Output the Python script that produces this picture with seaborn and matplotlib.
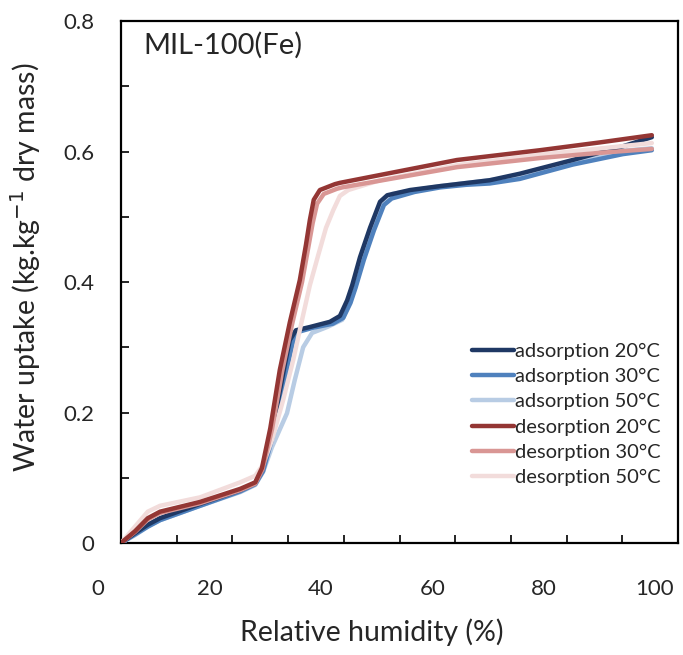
import numpy as np
import matplotlib
matplotlib.use("Agg")
import matplotlib.pyplot as plt
import matplotlib.transforms as mtransforms
from matplotlib.ticker import MultipleLocator, FixedLocator
import seaborn as sns

# ---------------- data ----------------
ads20_rh = [0, 2.5, 4.8, 7.0, 14.2, 21.4, 24.1, 25.3, 26.8, 28.2, 29.4, 30.3, 31.4, 33.9, 37.5, 39.3,
            40.6, 41.5, 42.9, 44.7, 46.5, 47.8, 51.9, 57.3, 66.2, 71.6, 81.1, 90.1, 95.3]
ads20_w = [0, 0.015, 0.028, 0.038, 0.060, 0.081, 0.092, 0.112, 0.158, 0.219, 0.273, 0.311, 0.326, 0.331,
           0.339, 0.348, 0.372, 0.395, 0.438, 0.483, 0.523, 0.533, 0.541, 0.547, 0.556, 0.566, 0.587,
           0.608, 0.622]

ads30_rh = [0, 2.5, 4.8, 7.0, 14.2, 21.4, 24.1, 25.5, 27.0, 28.6, 29.9, 30.9, 32.0, 34.5, 38.0, 39.9,
            41.2, 42.1, 43.6, 45.4, 47.2, 48.6, 52.7, 57.3, 62.0, 66.2, 71.6, 81.1, 90.1, 95.3]
ads30_w = [0, 0.013, 0.025, 0.035, 0.057, 0.079, 0.090, 0.110, 0.156, 0.217, 0.271, 0.309, 0.324, 0.330,
           0.336, 0.345, 0.368, 0.391, 0.434, 0.479, 0.518, 0.528, 0.538, 0.545, 0.549, 0.551, 0.558,
           0.580, 0.596, 0.602]

ads50_rh = [0, 2.5, 4.8, 7.0, 14.2, 21.4, 24.1, 25.5, 27.1, 29.8, 31.2, 32.7, 34.3, 37.0, 39.7, 40.9,
            42.0, 43.4, 45.3, 47.0, 48.7, 52.8, 57.3, 66.2, 71.6, 81.1, 90.1, 95.3]
ads50_w = [0, 0.012, 0.025, 0.035, 0.057, 0.078, 0.089, 0.109, 0.147, 0.199, 0.250, 0.300, 0.322, 0.331,
           0.342, 0.365, 0.391, 0.434, 0.480, 0.518, 0.535, 0.541, 0.547, 0.556, 0.562, 0.583, 0.601, 0.605]

des20_rh = [0, 2.5, 4.8, 7.0, 14.2, 21.4, 24.1, 25.3, 26.8, 28.5, 30.3, 32.1, 33.2, 33.9, 34.6, 35.7,
            38.4, 39.3, 48.3, 60.3, 75.2, 86.0, 95.3]
des20_w = [0, 0.018, 0.038, 0.048, 0.063, 0.083, 0.093, 0.115, 0.176, 0.265, 0.338, 0.403, 0.457, 0.495,
           0.526, 0.541, 0.550, 0.552, 0.567, 0.587, 0.602, 0.614, 0.625]

des30_rh = [0, 2.5, 4.8, 7.0, 14.2, 21.4, 24.1, 25.4, 27.1, 28.9, 30.7, 32.5, 33.6, 34.4, 35.2, 36.4,
            38.8, 39.7, 48.3, 60.3, 75.2, 86.0, 95.3]
des30_w = [0, 0.017, 0.036, 0.046, 0.061, 0.081, 0.091, 0.113, 0.174, 0.262, 0.335, 0.400, 0.452, 0.490,
           0.520, 0.535, 0.543, 0.545, 0.558, 0.576, 0.590, 0.598, 0.604]

des50_rh = [0, 2.5, 4.8, 7.0, 14.2, 21.4, 24.1, 25.5, 27.1, 29.1, 30.9, 32.5, 33.9, 35.4, 36.8, 38.1,
            39.3, 40.8, 46.5, 60.3, 75.2, 95.3]
des50_w = [0, 0.025, 0.048, 0.057, 0.070, 0.093, 0.103, 0.120, 0.158, 0.219, 0.280, 0.342, 0.395, 0.441,
           0.483, 0.510, 0.532, 0.541, 0.556, 0.579, 0.595, 0.613]

labels = ["adsorption 20°C", "adsorption 30°C", "adsorption 50°C",
          "desorption 20°C", "desorption 30°C", "desorption 50°C"]
x_ticks = [0, 20, 40, 60, 80, 100]
x_ticklabels = ["0", "20", "40", "60", "80", "100"]
y_ticks = [0, 0.2, 0.4, 0.6, 0.8]
y_ticklabels = ["0", "0.2", "0.4", "0.6", "0.8"]
title = "MIL-100(Fe)"

# ---------------- style ----------------
sns.set_style("white")
plt.rcParams["font.family"] = ["Lato", "DejaVu Sans"]

colors = ["#1f3864", "#4f81bd", "#b8cce4", "#943634", "#d99694", "#f2dcdb"]
series = [(ads20_rh, ads20_w), (ads30_rh, ads30_w), (ads50_rh, ads50_w),
          (des20_rh, des20_w), (des30_rh, des30_w), (des50_rh, des50_w)]
zorders = [3, 2.9, 2.8, 3.3, 3.2, 3.1]

fig = plt.figure(figsize=(6.83, 6.55), dpi=100)
ax = fig.add_axes([0.1772, 0.1710, 0.8155, 0.7969])

for (x, y), c, lab, z in zip(series, colors, labels, zorders):
    sns.lineplot(x=x, y=y, ax=ax, color=c, linewidth=3.2, label=lab,
                 sort=False, estimator=None, zorder=z)

ax.set_xlim(0, 100)
ax.set_ylim(0, 0.8)

ax.xaxis.set_major_locator(FixedLocator(x_ticks))
ax.set_xticklabels(x_ticklabels)
ax.xaxis.set_minor_locator(MultipleLocator(10))
ax.yaxis.set_major_locator(FixedLocator(y_ticks))
ax.set_yticklabels(y_ticklabels)
ax.yaxis.set_minor_locator(MultipleLocator(0.1))

ax.tick_params(axis="both", which="both", direction="in", length=6, width=1.2,
               color="black", top=False, right=False, bottom=True, left=True)
ax.tick_params(axis="x", which="major", pad=26, labelsize=16)
ax.tick_params(axis="y", which="major", pad=19, labelsize=16)

shift = mtransforms.ScaledTranslation(-0.23, 0, fig.dpi_scale_trans)
for lbl in ax.get_xticklabels():
    lbl.set_transform(lbl.get_transform() + shift)

for s in ax.spines.values():
    s.set_color("black")
    s.set_linewidth(1.6)
    s.set_visible(True)

ax.set_xlabel("Relative humidity (%)", fontsize=20.5)
ax.set_ylabel("Water uptake (kg.kg$^{-1}$ dry mass)", fontsize=20.5)
ax.xaxis.set_label_coords(0.451, -0.170)
ax.xaxis.label.set_verticalalignment("center")
ax.yaxis.set_label_coords(-0.172, 0.529)
ax.yaxis.label.set_verticalalignment("center")

ax.text(0.0395, 0.954, title, transform=ax.transAxes, fontsize=21, va="center", ha="left")

handles, labs = ax.get_legend_handles_labels()
leg = ax.legend(handles, labs, loc="upper left", bbox_to_anchor=(0.630, 0.383),
                frameon=False, fontsize=14.5, handlelength=2.1, handletextpad=0.05,
                labelspacing=0.4, borderpad=0, borderaxespad=0)

fig.savefig("out.png", dpi=100)
